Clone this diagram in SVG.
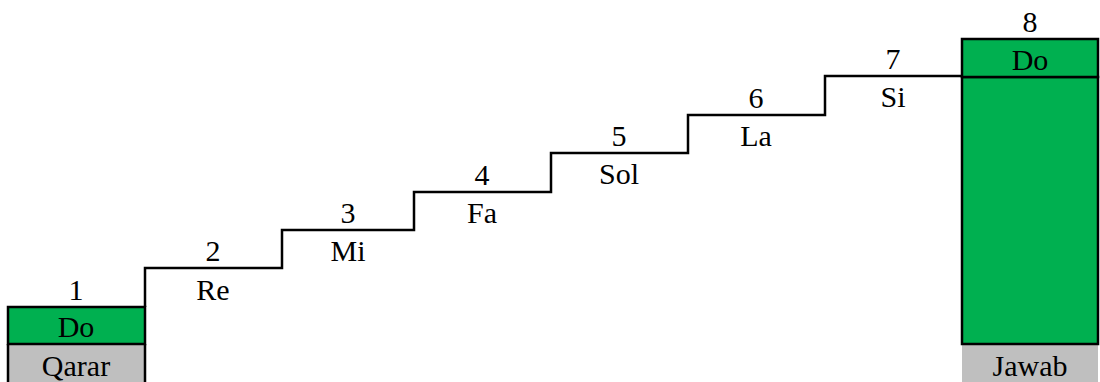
<svg xmlns="http://www.w3.org/2000/svg" width="1100" height="382" viewBox="0 0 1100 382">
<style>
text{font-family:"Liberation Serif","Times New Roman",serif;font-size:30px;text-anchor:middle;fill:#000}
.g{fill:#00B050;stroke:#000;stroke-width:2.5}
.q{fill:#BFBFBF}
.ln{fill:none;stroke:#000;stroke-width:2.5}
</style>
<rect width="1100" height="382" fill="#fff"/>
<g id="start">
<rect class="q" x="8" y="344" width="137" height="40"/>
<path class="ln" d="M8,382V344M145,382V344"/>
<rect class="g" x="8" y="307" width="137" height="37"/>
<text x="76" y="300">1</text>
<text x="76" y="337">Do</text>
<text x="76" y="376">Qarar</text>
</g>
<g id="end">
<rect class="q" x="962" y="344" width="136" height="40"/>
<rect class="g" x="962" y="77" width="136" height="267"/>
<rect class="g" x="962" y="39" width="136" height="38"/>
<text x="1030" y="32">8</text>
<text x="1030" y="70">Do</text>
<text x="1030" y="376">Jawab</text>
</g>
<g id="connectors">
<path class="ln" d="M145,307V268H282V230H414V192H551V153H688V115H825V76H962"/>
</g>
<g id="step2"><text x="213" y="261">2</text><text x="213" y="300">Re</text></g>
<g id="step3"><text x="348" y="223">3</text><text x="348" y="261">Mi</text></g>
<g id="step4"><text x="482" y="185">4</text><text x="482" y="223">Fa</text></g>
<g id="step5"><text x="619" y="146">5</text><text x="619" y="184">Sol</text></g>
<g id="step6"><text x="756" y="108">6</text><text x="756" y="146">La</text></g>
<g id="step7"><text x="893" y="69">7</text><text x="893" y="107">Si</text></g>
</svg>
